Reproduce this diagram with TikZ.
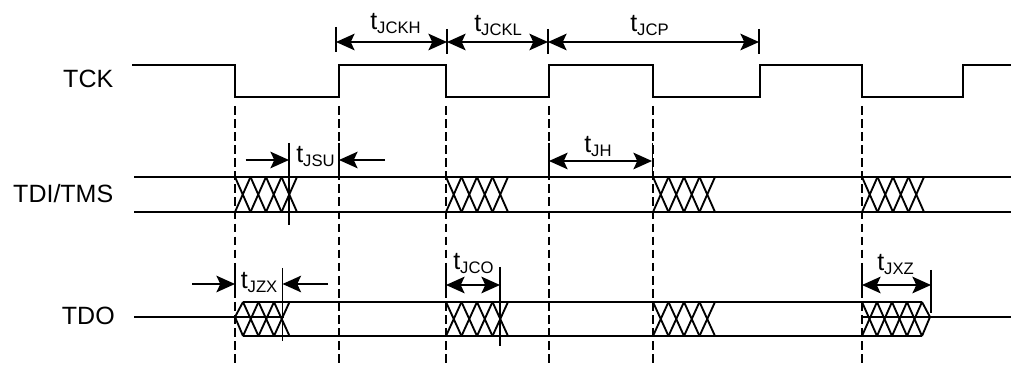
\documentclass[tikz,border=0pt]{standalone}
\usepackage{fontspec}
\setmainfont{Liberation Sans}
\usetikzlibrary{arrows.meta}
\newcommand{\tlab}[1]{\fontsize{18.75pt}{20pt}\selectfont t\raisebox{-3pt}{\fontsize{12.5pt}{14pt}\selectfont #1}}
\tikzset{
  wave/.style={line width=1.4pt,black},
  thin wave/.style={line width=1.05pt,black},
  guide/.style={line width=1.15pt,dash pattern=on 6.5pt off 3.3pt},
  tick/.style={line width=1.25pt},
  dim/.style={line width=1.2pt,{Stealth[length=14pt,width=12.5pt,inset=3pt]}-{Stealth[length=14pt,width=12.5pt,inset=3pt]}},
  point/.style={line width=1.2pt,-{Stealth[length=14pt,width=12.5pt,inset=3pt]}},
  siglab/.style={font=\fontsize{18.75pt}{20pt}\selectfont,anchor=base east,inner sep=0pt},
  tlabel/.style={anchor=base west,inner sep=0pt}
}
\newcommand{\xes}[4]{% start x, y top, y bottom, last index
  \foreach \i in {0,...,#4}{
    \draw[wave] ({#1+15.5*\i},#2) -- ({#1+15.5*(\i+1)},#3);
    \draw[wave] ({#1+15.5*\i},#3) -- ({#1+15.5*(\i+1)},#2);
  }}
\begin{document}
\begin{tikzpicture}[x=0.75pt,y=-0.75pt]
\useasboundingbox (0,0) rectangle (1011,367);
% clock
\draw[wave,line join=miter] (132,65) -- (235,65) -- (235,97) -- (339,97) -- (339,65) -- (446,65) -- (446,97) -- (549,97) -- (549,65) -- (653,65) -- (653,97) -- (760,97) -- (760,65) -- (862,65) -- (862,97) -- (963,97) -- (963,65) -- (1011,65);
% guides
\foreach \x in {235,339,446,549,653,862}{
  \draw[guide] (\x,106) -- (\x,367);
}
% TDI/TMS
\draw[wave] (134,177) -- (1011,177);
\draw[wave] (134,212) -- (1011,212);
\xes{235}{177}{212}{3}
\xes{446}{177}{212}{3}
\xes{653}{177}{212}{3}
\xes{862}{177}{212}{3}
% TDO
\draw[thin wave] (134,317) -- (284,317);
\draw[wave] (243,302) -- (922,302);
\draw[wave] (243,336) -- (922,336);
\draw[wave] (243,302) -- (235,317) -- (243,336);
\xes{243}{302}{336}{2}
\xes{446}{302}{336}{3}
\xes{653}{302}{336}{3}
% TDO final block
\draw[thin wave] (862,317) -- (1011,317);
\foreach \i in {0,1,2,3}{
  \draw[wave] ({862+15*\i},302) -- ({862+15*(\i+1)},336);
  \draw[wave] ({862+15*\i},336) -- ({862+15*(\i+1)},302);
}
\draw[wave] (922,302) -- (930,317) -- (922,336);
% labels
\node[siglab] (ltck) at (113.5,88) {TCK};
\node[siglab] (ltdi) at (113.5,203) {TDI/TMS};
\node[siglab] (ltdo) at (115,325) {TDO};
% top dimensions
\coordinate (t1) at (336,42); \coordinate (t2) at (447,42); \coordinate (t3) at (548,42); \coordinate (t4) at (759,42);
\draw[tick] (336,27) -- (336,52);
\draw[tick] (447,29) -- (447,54);
\draw[tick] (548,29) -- (548,54);
\draw[tick] (759,29) -- (759,54);
\draw[dim] (t1) -- (t2);
\draw[dim] (t2) -- (t3);
\draw[dim] (t3) -- (t4);
\node[tlabel] (lh) at (370,29.5) {\tlab{JCKH}};
\node[tlabel] (ll) at (474,31.5) {\tlab{JCKL}};
\node[tlabel] (lp) at (630,31.5) {\tlab{JCP}};
% JH
\coordinate (h1) at (549,161); \coordinate (h2) at (652,161);
\draw[tick] (549,143) -- (549,173);
\draw[tick] (652.5,143) -- (652.5,177);
\draw[dim] (h1) -- (h2);
\node[tlabel] (ljh) at (584,153) {\tlab{JH}};
% JSU
\coordinate (s1) at (245.5,160); \coordinate (s2) at (289,160);
\coordinate (s3) at (385,160); \coordinate (s4) at (339,160);
\draw[tick] (289,143) -- (289,225);
\draw[tick] (339,143) -- (339,177);
\draw[point] (s1) -- (s2);
\draw[point] (s3) -- (s4);
\node[tlabel] (lsu) at (296,163) {\tlab{JSU}};
% JZX
\coordinate (z1) at (192,284); \coordinate (z2) at (235,284);
\coordinate (z3) at (328,284); \coordinate (z4) at (282.5,284);
\draw[tick] (235,267) -- (235,295);
\draw[tick] (282.5,268) -- (282.5,341);
\draw[point] (z1) -- (z2);
\draw[point] (z3) -- (z4);
\node[tlabel] (lzx) at (240.5,288) {\tlab{JZX}};
% JCO
\coordinate (c1) at (446,285); \coordinate (c2) at (500,285);
\draw[tick] (446,263) -- (446,296);
\draw[tick] (500,267) -- (500,346);
\draw[dim] (c1) -- (c2);
\node[tlabel] (lco) at (453,270) {\tlab{JCO}};
% JXZ
\coordinate (x1) at (862,285); \coordinate (x2) at (931,285);
\draw[tick] (862,265) -- (862,298);
\draw[tick] (931,270) -- (931,312.5);
\draw[dim] (x1) -- (x2);
\node[tlabel] (lxz) at (877,271) {\tlab{JXZ}};
\end{tikzpicture}
\end{document}
